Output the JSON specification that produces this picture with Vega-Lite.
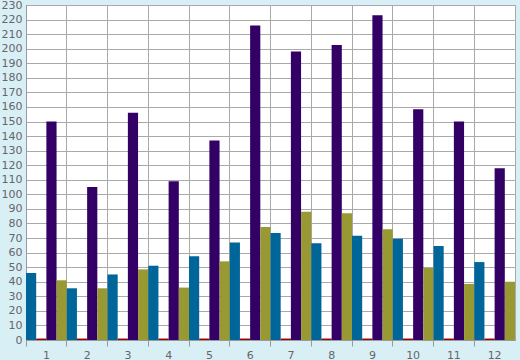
{
  "$schema": "https://vega.github.io/schema/vega-lite/v6.json",
  "width": 489,
  "height": 335,
  "autosize": "none",
  "padding": {"left": 26, "top": 5, "right": 5, "bottom": 20},
  "background": "#d9eff6",
  "config": {
    "view": {"fill": "white", "stroke": "#aaaaaa", "strokeWidth": 1},
    "axis": {
      "labelFont": "DejaVu Sans",
      "labelFontSize": 11,
      "labelColor": "#666666",
      "domainColor": "#999999",
      "gridColor": "#aaaaaa",
      "gridOpacity": 1,
      "title": null
    }
  },
  "data": {
    "values": [
      {"month": 1, "series": "blue", "value": 46},
      {"month": 1, "series": "red", "value": 1},
      {"month": 1, "series": "purple", "value": 150},
      {"month": 1, "series": "olive", "value": 41},
      {"month": 2, "series": "blue", "value": 35.5},
      {"month": 2, "series": "red", "value": 1},
      {"month": 2, "series": "purple", "value": 105},
      {"month": 2, "series": "olive", "value": 35.5},
      {"month": 3, "series": "blue", "value": 45},
      {"month": 3, "series": "red", "value": 1},
      {"month": 3, "series": "purple", "value": 156},
      {"month": 3, "series": "olive", "value": 48.5},
      {"month": 4, "series": "blue", "value": 51},
      {"month": 4, "series": "red", "value": 1},
      {"month": 4, "series": "purple", "value": 109},
      {"month": 4, "series": "olive", "value": 36},
      {"month": 5, "series": "blue", "value": 57.5},
      {"month": 5, "series": "red", "value": 1},
      {"month": 5, "series": "purple", "value": 137},
      {"month": 5, "series": "olive", "value": 54},
      {"month": 6, "series": "blue", "value": 67},
      {"month": 6, "series": "red", "value": 1},
      {"month": 6, "series": "purple", "value": 216},
      {"month": 6, "series": "olive", "value": 77.5},
      {"month": 7, "series": "blue", "value": 73.5},
      {"month": 7, "series": "red", "value": 1},
      {"month": 7, "series": "purple", "value": 198},
      {"month": 7, "series": "olive", "value": 88},
      {"month": 8, "series": "blue", "value": 66.5},
      {"month": 8, "series": "red", "value": 1},
      {"month": 8, "series": "purple", "value": 202.5},
      {"month": 8, "series": "olive", "value": 87},
      {"month": 9, "series": "blue", "value": 71.5},
      {"month": 9, "series": "red", "value": 1},
      {"month": 9, "series": "purple", "value": 223},
      {"month": 9, "series": "olive", "value": 76},
      {"month": 10, "series": "blue", "value": 69.5},
      {"month": 10, "series": "red", "value": 1},
      {"month": 10, "series": "purple", "value": 158.5},
      {"month": 10, "series": "olive", "value": 49.5},
      {"month": 11, "series": "blue", "value": 64.5},
      {"month": 11, "series": "red", "value": 1},
      {"month": 11, "series": "purple", "value": 150},
      {"month": 11, "series": "olive", "value": 38.5},
      {"month": 12, "series": "blue", "value": 53.5},
      {"month": 12, "series": "red", "value": 1},
      {"month": 12, "series": "purple", "value": 118},
      {"month": 12, "series": "olive", "value": 40}
    ]
  },
  "mark": {"type": "bar"},
  "encoding": {
    "x": {
      "field": "month",
      "type": "ordinal",
      "scale": {"paddingInner": 0, "paddingOuter": 0},
      "axis": {
        "labelAngle": 0,
        "bandPosition": 0,
        "grid": true,
        "tickColor": "#999999",
        "tickSize": 6,
        "labelPadding": 3
      }
    },
    "xOffset": {
      "field": "series",
      "sort": ["blue", "red", "purple", "olive"],
      "scale": {"paddingInner": 0, "paddingOuter": 0}
    },
    "y": {
      "field": "value",
      "type": "quantitative",
      "scale": {"domain": [0, 230], "nice": false},
      "axis": {
        "values": [0, 10, 20, 30, 40, 50, 60, 70, 80, 90, 100, 110, 120, 130, 140, 150, 160, 170, 180, 190, 200, 210, 220, 230],
        "ticks": false,
        "labelPadding": 4,
        "grid": true
      }
    },
    "color": {
      "field": "series",
      "scale": {
        "domain": ["blue", "red", "purple", "olive"],
        "range": ["#006699", "#990000", "#330066", "#999933"]
      },
      "legend": null
    }
  }
}
